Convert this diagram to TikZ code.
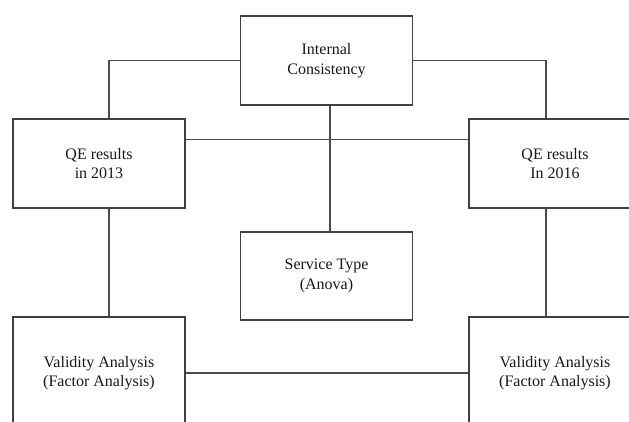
\documentclass[tikz,border=0pt]{standalone}
\usepackage{fontspec}
\setmainfont{Liberation Serif}
\begin{document}
\begin{tikzpicture}[x=1pt,y=-1pt,
  box/.style={draw=black!75, line width=1.1pt, minimum width=172pt, minimum height=89pt, inner sep=0pt, align=center, font=\fontsize{16}{19.5}\selectfont, text=black!90},
  link/.style={draw=black!70, line width=1.1pt}]
\useasboundingbox (0,0) rectangle (629,421);
\clip (0,0) rectangle (629,421);
\fill[white] (0,0) rectangle (629,421);
\node[box] (ic) at (326.5,60.5) {Internal\\Consistency};
\node[box] (q13) at (99,163.5) {QE results\\in 2013};
\node[box] (q16) at (555,163.5) {QE results\\In 2016};
\node[box, minimum height=88pt] (st) at (326.5,276) {Service Type\\(Anova)};
\node[box, minimum height=112pt] (v1) at (99,373) {Validity Analysis\\(Factor Analysis)};
\node[box, minimum height=112pt] (v2) at (555,373) {Validity Analysis\\(Factor Analysis)};
\draw[link] (ic.west) -| ([xshift=10pt]q13.north);
\draw[link] (ic.east) -| ([xshift=-9pt]q16.north);
\draw[link] ([xshift=3.5pt]ic.south) -- ([xshift=3.5pt]st.north);
\draw[link] ([yshift=24pt]q13.east) -- ([yshift=24pt]q16.west);
\draw[link] ([xshift=10pt]q13.south) -- ([xshift=10pt]v1.north);
\draw[link] ([xshift=-9pt]q16.south) -- ([xshift=-9pt]v2.north);
\draw[link] (v1.east) -- (v2.west);
\end{tikzpicture}
\end{document}
